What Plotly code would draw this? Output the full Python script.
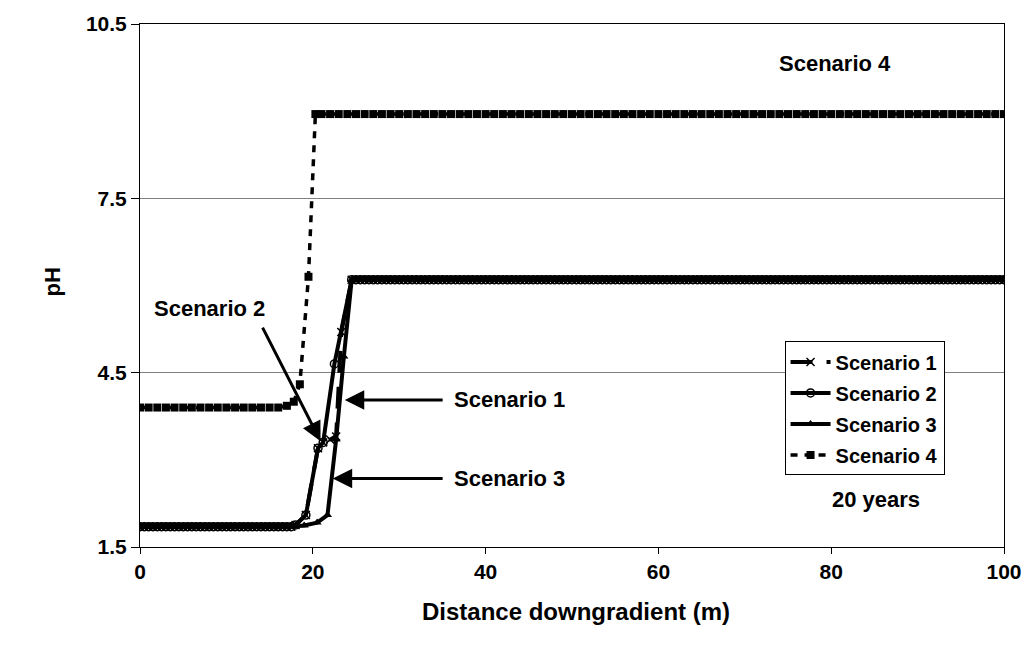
import numpy as np
import plotly.graph_objects as go

# Model nodes along the flow path (m)
NODES_FINE_LOW = np.arange(0.0, 18.0, 0.5)
NODES_FINE_HIGH = np.arange(25.0, 100.01, 0.5)
NODES_COARSE_LOW = np.arange(0.0, 17.0, 1.0)
NODES_COARSE_HIGH = np.arange(21.0, 100.01, 1.0)

# Scenario 1
s1_low_ph = 1.85
s1_front_x = [18.0, 19.2, 20.6, 21.2, 22.0, 22.7, 23.3, 24.5]
s1_front_ph = [1.88, 2.05, 3.2, 3.3, 3.35, 3.4, 5.2, 6.1]
s1_high_ph = 6.1

# Scenario 2
s2_low_ph = 1.85
s2_front_x = [18.0, 19.2, 20.6, 21.2, 22.5, 24.5]
s2_front_ph = [1.88, 2.05, 3.2, 3.3, 4.65, 6.1]
s2_high_ph = 6.1

# Scenario 3
s3_low_ph = 1.85
s3_front_x = [18.0, 19.0, 20.5, 21.7, 22.7, 23.6, 24.5]
s3_front_ph = [1.86, 1.87, 1.92, 2.05, 3.35, 4.78, 6.1]
s3_high_ph = 6.1

# Scenario 4
s4_low_ph = 3.9
s4_front_x = [17.0, 17.8, 18.5, 19.5, 20.3]
s4_front_ph = [3.93, 4.0, 4.3, 6.15, 8.95]
s4_high_ph = 8.95


def profile(low_nodes, low_ph, front_x, front_ph, high_nodes, high_ph):
    x = list(low_nodes) + list(front_x) + list(high_nodes)
    y = [low_ph] * len(low_nodes) + list(front_ph) + [high_ph] * len(high_nodes)
    return x, y


s1_x, s1_y = profile(NODES_FINE_LOW, s1_low_ph, s1_front_x, s1_front_ph, NODES_FINE_HIGH, s1_high_ph)
s2_x, s2_y = profile(NODES_FINE_LOW, s2_low_ph, s2_front_x, s2_front_ph, NODES_FINE_HIGH, s2_high_ph)
s3_x, s3_y = profile(NODES_FINE_LOW, s3_low_ph, s3_front_x, s3_front_ph, NODES_FINE_HIGH, s3_high_ph)
s4_x, s4_y = profile(NODES_COARSE_LOW, s4_low_ph, s4_front_x, s4_front_ph, NODES_COARSE_HIGH, s4_high_ph)

FONT = "Liberation Sans, Arial, sans-serif"

fig = go.Figure()

fig.add_trace(go.Scatter(
    x=s4_x, y=s4_y, mode="lines+markers", name="Scenario 4",
    line=dict(color="black", width=3.5, dash="7px,7px"),
    marker=dict(symbol="square", size=8, color="black"),
    legendgroup="4", legendrank=4,
))
fig.add_trace(go.Scatter(
    x=s3_x, y=s3_y, mode="lines+markers", name="Scenario 3",
    line=dict(color="black", width=4),
    marker=dict(symbol="triangle-up", size=8, color="black"),
    legendgroup="3", legendrank=3,
))
fig.add_trace(go.Scatter(
    x=s2_x, y=s2_y, mode="lines+markers", name="Scenario 2",
    line=dict(color="black", width=4),
    marker=dict(symbol="circle-open", size=8, color="black", line=dict(width=1.5)),
    legendgroup="2", legendrank=2,
))
fig.add_trace(go.Scatter(
    x=s1_x, y=s1_y, mode="lines+markers", name="Scenario 1",
    line=dict(color="black", width=4, dash="22px,14px"),
    marker=dict(symbol="x-thin-open", size=8, color="black", line=dict(width=1.5, color="black")),
    legendgroup="1", legendrank=1,
))

label_font = dict(family=FONT, size=22, color="black", weight="bold")

# Curve labels with pointer arrows
fig.add_annotation(x=80.4, y=9.82, text="Scenario 4", showarrow=False, font=label_font)
fig.add_annotation(x=8.1, y=5.6, text="Scenario 2", showarrow=False, font=label_font)
fig.add_annotation(x=42.8, y=4.03, text="Scenario 1", showarrow=False, font=label_font)
fig.add_annotation(x=42.8, y=2.68, text="Scenario 3", showarrow=False, font=label_font)
fig.add_annotation(x=85.2, y=2.31, text="20 years", showarrow=False, font=label_font)

arrow_style = dict(showarrow=True, arrowhead=2, arrowsize=1.3, arrowwidth=3,
                   arrowcolor="black", axref="x", ayref="y", text="")
fig.add_annotation(x=20.9, y=3.32, ax=14.1, ay=5.3, **arrow_style)
fig.add_annotation(x=23.7, y=4.03, ax=35.2, ay=4.03, **arrow_style)
fig.add_annotation(x=22.3, y=2.68, ax=35.2, ay=2.68, **arrow_style)

# Axis titles
fig.add_annotation(xref="paper", yref="paper", x=-0.118, y=0.507, text="pH",
                   textangle=-90, showarrow=False,
                   font=dict(family=FONT, size=22, color="black", weight="bold"))
fig.add_annotation(xref="paper", yref="paper", x=0.505, y=-0.123,
                   text="Distance downgradient (m)", showarrow=False,
                   font=dict(family=FONT, size=24, color="black", weight="bold"),
                   yanchor="middle")

fig.update_xaxes(
    range=[0, 100], tickvals=[0, 20, 40, 60, 80, 100],
    showgrid=False, zeroline=False,
    showline=True, linecolor="black", linewidth=1, mirror=True,
    ticks="outside", ticklen=6, tickcolor="black",
    tickfont=dict(family=FONT, size=21, color="black", weight="bold"),
)
fig.update_yaxes(
    range=[1.5, 10.5], tickvals=[1.5, 4.5, 7.5, 10.5], ticktext=["1.5", "4.5", "7.5", "10.5"],
    showgrid=True, gridcolor="#808080", gridwidth=1, zeroline=False,
    showline=True, linecolor="black", linewidth=1, mirror=True,
    ticks="outside", ticklen=8, tickcolor="black",
    tickfont=dict(family=FONT, size=21, color="black", weight="bold"),
)

fig.update_layout(
    width=1034, height=661,
    margin=dict(l=140, r=28, t=20, b=114),
    plot_bgcolor="white", paper_bgcolor="white",
    showlegend=True,
    legend=dict(
        x=0.746, y=0.393, xanchor="left", yanchor="top",
        bgcolor="white", bordercolor="black", borderwidth=1,
        font=dict(family=FONT, size=20, color="black", weight="bold"),
        tracegroupgap=2, traceorder="grouped",
        itemwidth=40,
    ),
)

fig.write_html("out.html")
